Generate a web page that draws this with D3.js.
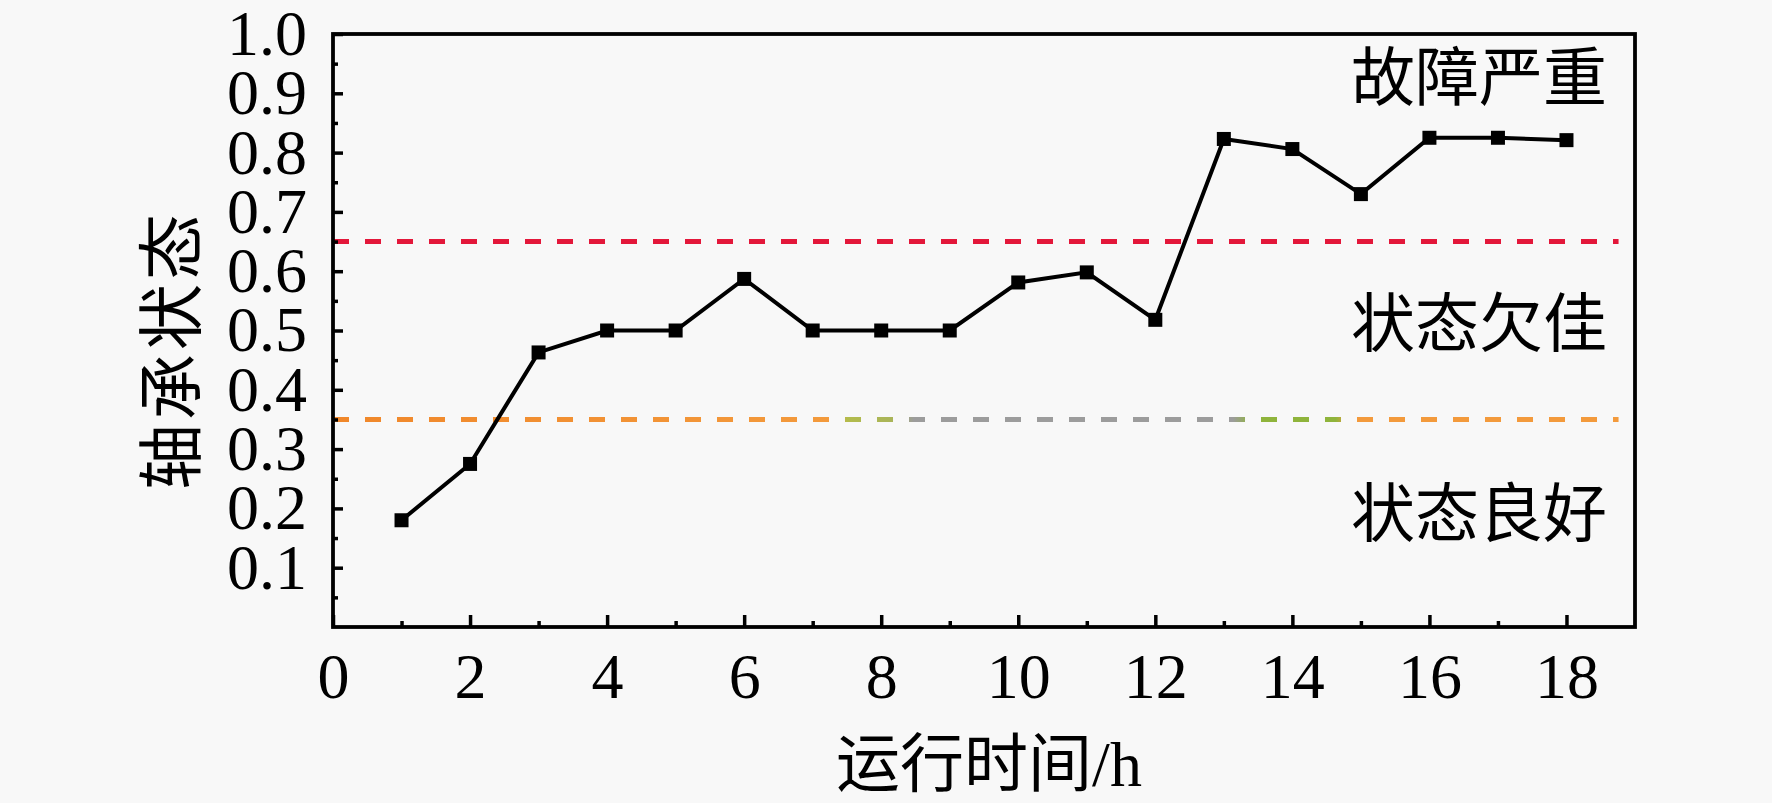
<!DOCTYPE html>
<html>
<head>
<meta charset="utf-8">
<script src="https://cdn.jsdelivr.net/npm/d3@7"></script>
<style>
  html, body { margin: 0; padding: 0; background: #f8f8f8; }
  svg { display: block; }
  text { font-family: "Liberation Serif", "Times New Roman", "Noto Sans CJK SC", serif; fill: #000; }
</style>
</head>
<body>
<svg id="chart" width="1772" height="803"></svg>
<script>
// ---- data ----
const hours = [1, 2, 3, 4, 5, 6, 7, 8, 9, 10, 11, 12, 13, 14, 15, 16, 17, 18];
const state = [0.18, 0.275, 0.463, 0.5, 0.5, 0.587, 0.5, 0.5, 0.5, 0.581, 0.598, 0.518, 0.823, 0.806, 0.73, 0.825, 0.825, 0.821];
const xTicks = [0, 2, 4, 6, 8, 10, 12, 14, 16, 18];
const xMinorTicks = [1, 3, 5, 7, 9, 11, 13, 15, 17];
const yTicks = [0.1, 0.2, 0.3, 0.4, 0.5, 0.6, 0.7, 0.8, 0.9, 1.0];
const yMinorTicks = [0.05, 0.15, 0.25, 0.35, 0.45, 0.55, 0.65, 0.75, 0.85, 0.95];
const thresholds = [0.65, 0.35];
const regionLabels = ["故障严重", "状态欠佳", "状态良好"];
const regionValues = [0.925, 0.51, 0.19];
const xTitle = "运行时间/h";
const yTitle = "轴承状态";

// ---- layout ----
const L = 333, R = 1635, T = 34, B = 627;
const svg = d3.select("#chart");
const x = d3.scaleLinear().domain([0, 19]).range([L, R]);
const y = d3.scaleLinear().domain([0, 1]).range([B, T]);

svg.append("rect").attr("width", 1772).attr("height", 803).attr("fill", "#f8f8f8");

// gradient for lower threshold
const defs = svg.append("defs");
const grad = defs.append("linearGradient").attr("id", "lowGrad")
  .attr("gradientUnits", "userSpaceOnUse")
  .attr("x1", x(0)).attr("x2", x(18.76)).attr("y1", 0).attr("y2", 0);
[[0, "#f0872a"], [0.387, "#f39a3c"], [0.40, "#b3bc4c"], [0.437, "#a9b45a"], [0.452, "#9c9c9c"],
 [0.70, "#9c9c9c"], [0.714, "#8fb43c"], [0.78, "#8fb43c"], [0.79, "#f39a3c"], [1, "#f39a3c"]]
  .forEach(([o, c]) => grad.append("stop").attr("offset", o).attr("stop-color", c));

// threshold dashed lines
const thColors = ["#e3173a", "url(#lowGrad)"];
svg.selectAll("line.th").data(thresholds).enter().append("line")
  .attr("class", "th")
  .attr("x1", x(0)).attr("x2", x(18.76))
  .attr("y1", d => y(d)).attr("y2", d => y(d))
  .attr("stroke", (d, i) => thColors[i])
  .attr("stroke-width", 5)
  .attr("stroke-dasharray", "16,16");

// x axis
const xAxis = d3.axisBottom(x).tickValues(xTicks).tickFormat(d3.format("d"))
  .tickSizeInner(-12).tickSizeOuter(0).tickPadding(26);
const gx = svg.append("g").attr("transform", `translate(0,${B})`).call(xAxis);
gx.select(".domain").remove();
gx.selectAll(".tick line").attr("stroke", "#000").attr("stroke-width", 3.5);
gx.selectAll(".tick text").attr("font-size", 64);

const xAxisMinor = d3.axisBottom(x).tickValues(xMinorTicks).tickFormat("")
  .tickSizeInner(-6).tickSizeOuter(0);
const gxm = svg.append("g").attr("transform", `translate(0,${B})`).call(xAxisMinor);
gxm.select(".domain").remove();
gxm.selectAll(".tick line").attr("stroke", "#000").attr("stroke-width", 3.5);

// y axis
const yAxis = d3.axisLeft(y).tickValues(yTicks).tickFormat(d3.format(".1f"))
  .tickSizeInner(-10).tickSizeOuter(0).tickPadding(26);
const gy = svg.append("g").attr("transform", `translate(${L},0)`).call(yAxis);
gy.select(".domain").remove();
gy.selectAll(".tick line").attr("stroke", "#000").attr("stroke-width", 3.5);
gy.selectAll(".tick text").attr("font-size", 64);

const yAxisMinor = d3.axisLeft(y).tickValues(yMinorTicks).tickFormat("")
  .tickSizeInner(-5).tickSizeOuter(0);
const gym = svg.append("g").attr("transform", `translate(${L},0)`).call(yAxisMinor);
gym.select(".domain").remove();
gym.selectAll(".tick line").attr("stroke", "#000").attr("stroke-width", 3.5);

// frame
svg.append("rect").attr("x", L).attr("y", T).attr("width", R - L).attr("height", B - T)
  .attr("fill", "none").attr("stroke", "#000").attr("stroke-width", 3.8);

// data line
const pts = hours.map((h, i) => [h, state[i]]);
svg.append("path").datum(pts)
  .attr("fill", "none").attr("stroke", "#000").attr("stroke-width", 4)
  .attr("stroke-linejoin", "miter")
  .attr("d", d3.line().x(d => x(d[0])).y(d => y(d[1])));

const ms = 14;
svg.selectAll("rect.mk").data(pts).enter().append("rect")
  .attr("class", "mk")
  .attr("x", d => x(d[0]) - ms / 2).attr("y", d => y(d[1]) - ms / 2)
  .attr("width", ms).attr("height", ms).attr("fill", "#000");

// region labels
svg.selectAll("text.region").data(regionLabels).enter().append("text")
  .attr("class", "region")
  .attr("x", 1607)
  .attr("y", (d, i) => y(regionValues[i]))
  .attr("text-anchor", "end")
  .attr("dominant-baseline", "central")
  .attr("font-size", 64)
  .text(d => d);

// axis titles
svg.append("text")
  .attr("x", 989).attr("y", 786)
  .attr("text-anchor", "middle")
  .attr("font-size", 64)
  .text(xTitle);

svg.append("text")
  .attr("transform", "translate(172,350) rotate(-90)")
  .attr("text-anchor", "middle")
  .attr("dominant-baseline", "central")
  .attr("font-size", 66)
  .attr("letter-spacing", 4)
  .text(yTitle);
</script>
</body>
</html>
